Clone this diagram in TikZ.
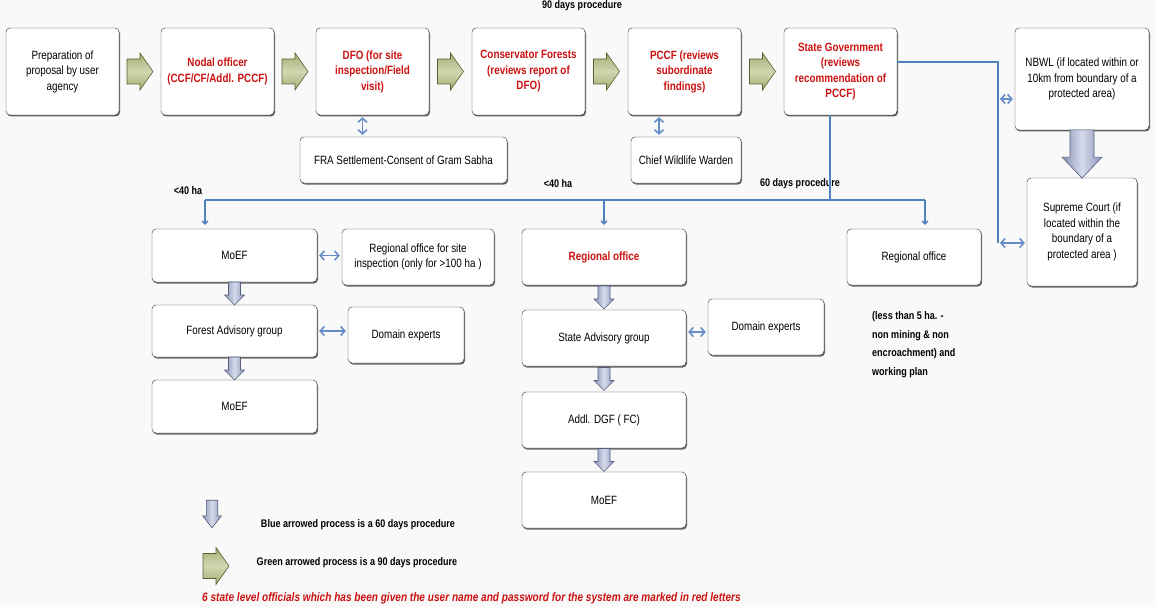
\documentclass[tikz,border=0pt]{standalone}
\usepackage{fontspec}
\setmainfont{Liberation Sans}[FakeStretch=0.82]
\usetikzlibrary{arrows.meta, shadows, calc}
\definecolor{redtext}{RGB}{204,17,17}
\definecolor{flowline}{RGB}{79,129,189}
\definecolor{linkline}{RGB}{100,140,200}
\definecolor{greenfill}{RGB}{208,215,178}
\definecolor{greendark}{RGB}{160,174,112}
\definecolor{greenedge}{RGB}{85,98,50}
\definecolor{bluefill}{RGB}{214,219,236}
\definecolor{bluedark}{RGB}{136,146,180}
\definecolor{blueedge}{RGB}{85,95,125}
\definecolor{paper}{RGB}{249,249,249}
\tikzset{
  procbox/.style={draw=black!80, rounded corners=4pt, fill=white, align=center, inner sep=1pt,
    drop shadow={shadow xshift=1pt, shadow yshift=-1.5pt, opacity=0.75, fill=black!80}},
  redbox/.style={procbox, text=redtext, font=\fontsize{12}{15.5}\selectfont\bfseries},
  topbox/.style={minimum width=113pt, minimum height=87pt},
  tag/.style={font=\fontsize{11}{18.5}\selectfont\bfseries, inner sep=1pt},
  flow/.style={draw=flowline, line width=1.3pt},
  feed/.style={flow, -{Straight Barb[length=3pt, width=6pt]}, shorten >=4pt},
  link/.style={draw=linkline, line width=1.6pt, shorten <=2pt, shorten >=2pt,
    {Straight Barb[length=4pt, width=9pt]}-{Straight Barb[length=4pt, width=9pt]}},
  pics/garrow/.style={code={
    \draw[greenedge, line width=0.6pt, top color=greendark, bottom color=greendark, middle color=greenfill]
      (-13, -12.5) -- (0, -12.5) -- (0, -18.5) -- (13, 0) -- (0, 18.5) -- (0, 12.5) -- (-13, 12.5) -- cycle;}},
  pics/barrow/.style={code={
    \draw[blueedge, line width=0.6pt, left color=bluedark, right color=bluedark, middle color=bluefill]
      (-6, -11.5) -- (6, -11.5) -- (6, 1.5) -- (10, 1.5) -- (0, 11.5) -- (-10, 1.5) -- (-6, 1.5) -- cycle;}}
}
\begin{document}
\begin{tikzpicture}[x=1pt, y=-1pt, every node/.style={font=\fontsize{12}{15.5}\selectfont}]
      \fill[paper] (0, 0) rectangle (1156, 607);
      \useasboundingbox (0, 0) rectangle (1156, 607);
      % 90 days row
      \node[tag] (t90) at (582, 6) {90 days procedure};
      \node[procbox, topbox] (prep) at (62.5, 71.5) {Preparation of\\proposal by user\\agency};
      \node[redbox, topbox] (nodal) at (217.5, 71.5) {Nodal officer\\(CCF/CF/Addl. PCCF)};
      \node[redbox, topbox] (dfo) at (372.5, 71.5) {DFO (for site\\inspection/Field\\visit)};
      \node[redbox, topbox] (cons) at (528.5, 71.5) {Conservator Forests\\(reviews report of\\DFO)};
      \node[redbox, topbox] (pccf) at (684.5, 71.5) {PCCF (reviews\\subordinate\\findings)};
      \node[redbox, topbox] (state) at (840.5, 71.5) {State Government\\(reviews\\recommendation of\\PCCF)};
      \pic at ($(prep.east)!0.5!(nodal.west)$) {garrow};
      \pic at ($(nodal.east)!0.5!(dfo.west)$) {garrow};
      \pic at ($(dfo.east)!0.5!(cons.west)$) {garrow};
      \pic at ($(cons.east)!0.5!(pccf.west)$) {garrow};
      \pic at ($(pccf.east)!0.5!(state.west)$) {garrow};
      \node[procbox, minimum width=207pt, minimum height=46pt] (fra) at (403.5, 160) {FRA Settlement-Consent of Gram Sabha};
      \node[procbox, minimum width=110pt, minimum height=46pt] (cww) at (686, 160) {Chief Wildlife Warden};
      \coordinate (fraL) at ([xshift=-41pt]fra.north);
      \draw[link] (fraL) -- (fraL |- dfo.south);
      \coordinate (cwwL) at ([xshift=-27pt]cww.north);
      \draw[link] (cwwL) -- (cwwL |- pccf.south);

      % Protected areas
      \node[procbox, minimum width=134pt, minimum height=102pt] (nbwl) at (1082, 79) {NBWL (if located within or\\10km from boundary of a\\protected area)};
      \node[procbox, minimum width=110pt, minimum height=108pt] (court) at (1082, 232) {Supreme Court (if\\located within the\\boundary of a\\protected area )};
      \pic[xscale=2, yscale=2.1] at ($(nbwl.south)!0.5!(court.north)$) {barrow};
      \coordinate (rail) at (998, 62);
      \coordinate (railN) at (998, 99);
      \coordinate (railB) at (998, 243);
      \draw[flow] (state.east |- rail) -- (rail) -- (railB);
      \draw[link] (railN) -- (railN -| nbwl.west);
      \draw[link] (railB) -- (railB -| court.west);

      % 60 days split
      \node[tag] (lt40a) at (188, 191) {<40 ha};
      \node[tag] (lt40b) at (558, 184) {<40 ha};
      \node[tag] (t60) at (800, 184) {60 days procedure};
      \coordinate (split) at (830, 200);
      \coordinate (bendL) at (205, 200);
      \coordinate (bendR) at (925, 200);
      \draw[flow] (split |- state.south) -- (split);
      \draw[flow] (bendL) -- (bendR);

      % Left branch
      \node[procbox, minimum width=165pt, minimum height=53pt] (moefA) at (234.5, 255.5) {MoEF};
      \node[procbox, minimum width=152pt, minimum height=56pt] (rosite) at (418, 257) {Regional office for site\\inspection (only for >100 ha )};
      \node[procbox, minimum width=165pt, minimum height=52pt] (fag) at (234.5, 331) {Forest Advisory group};
      \node[procbox, minimum width=116pt, minimum height=56pt] (domA) at (406, 335) {Domain experts};
      \node[procbox, minimum width=165pt, minimum height=53pt] (moefC) at (234.5, 406.5) {MoEF};
      \draw[feed] (bendL) -- (bendL |- moefA.north);
      \draw[link] (moefA.east) -- (moefA.east -| rosite.west);
      \draw[link] (fag.east) -- (fag.east -| domA.west);
      \pic at ($(moefA.south)!0.5!(fag.north)$) {barrow};
      \pic at ($(fag.south)!0.5!(moefC.north)$) {barrow};

      % Middle branch
      \node[redbox, minimum width=164pt, minimum height=56pt] (roB) at (604, 257) {Regional office};
      \node[procbox, minimum width=164pt, minimum height=56pt] (sag) at (604, 338) {State Advisory group};
      \node[procbox, minimum width=116pt, minimum height=56pt] (domB) at (766, 327) {Domain experts};
      \node[procbox, minimum width=164pt, minimum height=56pt] (dgf) at (604, 420) {Addl. DGF ( FC)};
      \node[procbox, minimum width=164pt, minimum height=56pt] (moefB) at (604, 500) {MoEF};
      \draw[feed] (bendL -| roB) -- (roB.north);
      \coordinate (sagL) at ([yshift=6pt]sag.east);
      \draw[link] (sagL) -- (sagL -| domB.west);
      \pic at ($(roB.south)!0.5!(sag.north)$) {barrow};
      \pic at ($(sag.south)!0.5!(dgf.north)$) {barrow};
      \pic at ($(dgf.south)!0.5!(moefB.north)$) {barrow};

      % Right branch
      \node[procbox, minimum width=134pt, minimum height=56pt] (roC) at (914, 257) {Regional office};
      \draw[feed] (bendR) -- (bendR |- roC.north);
      \node[tag, align=left, anchor=west] (note) at (871, 344.5) {(less than 5 ha. -\\non mining \& non\\encroachment) and\\working plan};

      % Legend
      \pic[xscale=0.95, yscale=1.2] at (212, 514) {barrow};
      \node[tag] (legA) at (358, 525) {Blue arrowed process is a 60 days procedure};
      \pic at (216, 566) {garrow};
      \node[tag] (legB) at (357, 563) {Green arrowed process is a 90 days procedure};
      \node[tag, anchor=west, text=redtext, font=\fontsize{12.3}{14}\selectfont\bfseries\itshape] (redkey) at (201, 598) {6 state level officials  which has been given the user name and password for the system are marked in red letters};
\end{tikzpicture}
\end{document}
